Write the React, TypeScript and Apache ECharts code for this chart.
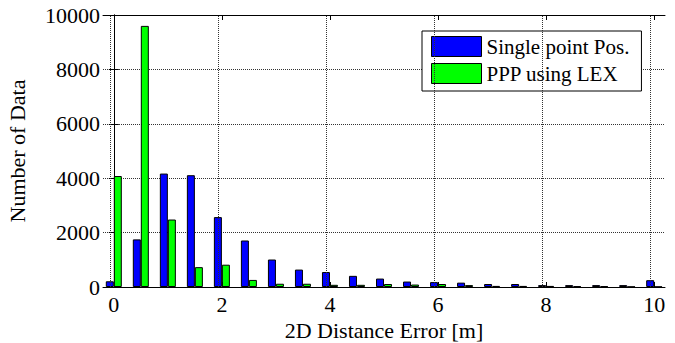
import React, { useEffect, useRef } from "react";
import * as echarts from "echarts";

const bins = [0, 0.5, 1, 1.5, 2, 2.5, 3, 3.5, 4, 4.5, 5, 5.5, 6, 6.5, 7, 7.5, 8, 8.5, 9, 9.5, 10];
const singlePoint = [210, 1750, 4170, 4110, 2570, 1710, 1010, 640, 550, 410, 310, 200, 180, 160, 110, 110, 70, 70, 70, 70, 250];
const pppLex = [4080, 9600, 2480, 730, 820, 260, 120, 120, 80, 80, 110, 90, 110, 70, 40, 40, 40, 30, 30, 10, 10];
const xTicks = [0, 2, 4, 6, 8, 10];
const seriesNames = ["Single point Pos.", "PPP using LEX"];

const FONT = "Liberation Serif";

export default function App() {
  const ref = useRef<HTMLDivElement>(null);
  useEffect(() => {
    if (!ref.current) return;
    const chart = echarts.init(ref.current, undefined, { renderer: "svg" });
    const gridLine = { type: "dotted" as const, color: "#333", width: 1 };
    const labelStyle = { fontFamily: FONT, fontSize: 22, color: "#000" };
    const xCommon = {
      type: "value" as const,
      min: -0.2,
      max: 10.2,
      axisLine: { show: true, onZero: false, lineStyle: { color: "#000", width: 1 } },
      axisTick: { show: true, inside: true, length: 5, customValues: xTicks, lineStyle: { color: "#000" } },
      splitLine: { show: false },
    };
    chart.setOption({
      animation: false,
      backgroundColor: "#fff",
      textStyle: { fontFamily: FONT },
      grid: { left: 103, right: 10, top: 15, bottom: 56, containLabel: false, outerBoundsMode: "none" },
      legend: {
        orient: "vertical",
        left: 422,
        top: 31,
        icon: "rect",
        data: seriesNames.map((n) => ({ name: n, icon: "rect" })),
        backgroundColor: "#fff",
        borderColor: "#000",
        borderWidth: 1,
        borderRadius: 0,
        padding: [5, 12, 7, 9],
        itemWidth: 50,
        itemHeight: 20,
        itemGap: 6,
        textStyle: { ...labelStyle, fontSize: 21 },
        itemStyle: { borderColor: "#000", borderWidth: 1 },
      },
      xAxis: [
        {
          ...xCommon,
          position: "bottom",
          name: "2D Distance Error [m]",
          nameLocation: "middle",
          nameGap: 28,
          nameTextStyle: { ...labelStyle },
          axisLabel: { ...labelStyle, customValues: xTicks, margin: 6 },
        },
        {
          ...xCommon,
          position: "top",
          axisLabel: { show: false },
        },
      ],
      yAxis: [
        {
          type: "value",
          min: 0,
          max: 10000,
          interval: 2000,
          position: "left",
          name: "Number of Data",
          nameLocation: "middle",
          nameGap: 75,
          nameTextStyle: { ...labelStyle },
          axisLine: { show: true, lineStyle: { color: "#000" } },
          axisTick: { show: true, inside: true, length: 5, lineStyle: { color: "#000" } },
          axisLabel: { ...labelStyle, margin: 3, formatter: (v: number) => String(v) },
          splitLine: { show: true, lineStyle: gridLine },
        },
        {
          type: "value",
          min: 0,
          max: 10000,
          interval: 2000,
          position: "right",
          axisLine: { show: true, lineStyle: { color: "#000" } },
          axisTick: { show: true, inside: true, length: 5, lineStyle: { color: "#000" } },
          axisLabel: { show: false },
          splitLine: { show: false },
        },
      ],
      series: [
        {
          name: seriesNames[0],
          type: "bar",
          xAxisIndex: 0,
          yAxisIndex: 0,
          barWidth: 8,
          barGap: "0%",
          data: bins.map((b, i) => [b, singlePoint[i]]),
          itemStyle: { color: "#0000ff", borderColor: "#000", borderWidth: 1 },
          markLine: {
            silent: true,
            symbol: "none",
            label: { show: false },
            lineStyle: gridLine,
            data: xTicks.map((v) => ({ xAxis: v })),
          },
        },
        {
          name: seriesNames[1],
          type: "bar",
          xAxisIndex: 0,
          yAxisIndex: 0,
          barWidth: 8,
          barGap: "0%",
          data: bins.map((b, i) => [b, pppLex[i]]),
          itemStyle: { color: "#00ff00", borderColor: "#000", borderWidth: 1 },
        },
      ],
    });
    return () => chart.dispose();
  }, []);
  return (
    <div
      ref={ref}
      style={{ position: "fixed", left: 0, top: 0, width: 675, height: 343, background: "#fff" }}
    />
  );
}
